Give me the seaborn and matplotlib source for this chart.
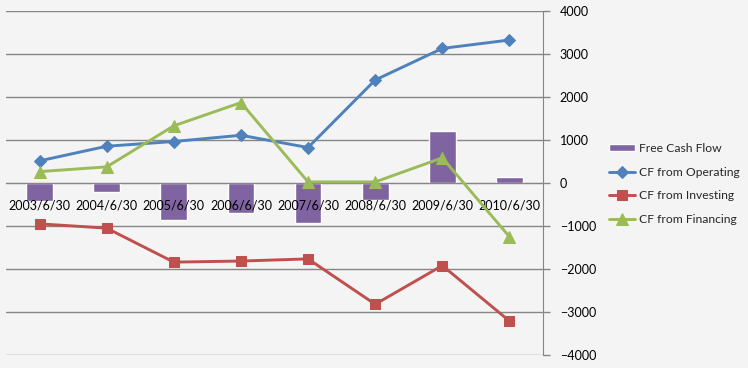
import numpy as np
import pandas as pd
import seaborn as sns
import matplotlib.pyplot as plt

# data
dates = ["2003/6/30", "2004/6/30", "2005/6/30", "2006/6/30",
         "2007/6/30", "2008/6/30", "2009/6/30", "2010/6/30"]
free_cf = [-420, -200, -855, -690, -925, -400, 1210, 140]
cf_operating = [515, 855, 965, 1110, 825, 2395, 3130, 3325]
cf_investing = [-950, -1050, -1840, -1815, -1765, -2820, -1920, -3210]
cf_financing = [265, 375, 1330, 1870, 25, 25, 585, -1250]

bg = "#F4F4F4"
grid_col = "#868686"

sns.set_style("white")
plt.rcParams["font.family"] = ["Lato", "DejaVu Sans"]

fig = plt.figure(figsize=(7.48, 3.68), dpi=100, facecolor=bg)
ax = fig.add_axes([6 / 748, 13 / 368, 537 / 748, 344 / 368])
ax.set_facecolor(bg)
ax.set_axisbelow(False)  # category labels go on top of the bars

# gridlines first so everything sits on top
for v in range(-4000, 4001, 1000):
    ax.axhline(v, color=grid_col, lw=1, zorder=0)

fcf = pd.DataFrame({"date": dates, "value": free_cf})
sns.barplot(data=fcf, x="date", y="value", color="#8064A2", width=0.4,
            saturation=1, ax=ax, label="Free Cash Flow", zorder=2)

pos = np.arange(len(dates))
series = [
    ("CF from Operating", cf_operating, "#4F81BD", "D", 6),
    ("CF from Investing", cf_investing, "#C0504D", "s", 7),
    ("CF from Financing", cf_financing, "#9BBB59", "^", 8),
]
for name, vals, col, mk, ms in series:
    sns.lineplot(x=pos, y=vals, color=col, lw=2.1, marker=mk, markersize=ms,
                 markeredgecolor=col, ax=ax, label=name, zorder=3)

ax.set_xlim(-0.5, len(dates) - 0.5)
ax.set_ylim(-4000, 4000)
ax.set_xlabel("")
ax.set_ylabel("")

# category axis sits on the zero line
for s in ["left", "top"]:
    ax.spines[s].set_visible(False)
ax.spines["bottom"].set_position(("data", 0))
ax.spines["bottom"].set_color(grid_col)
ax.spines["right"].set_color(grid_col)

ax.set_xticks(pos)
ax.set_xticklabels(dates)
ax.set_xticks(np.arange(-0.5, len(dates), 1), minor=True)
ax.tick_params(axis="x", which="major", length=0, pad=12, labelsize=9,
               colors="black")
ax.tick_params(axis="x", which="minor", length=4, color=grid_col, width=1)

ax.yaxis.tick_right()
ax.set_yticks(range(-4000, 4001, 1000))
ax.tick_params(axis="y", length=5, color=grid_col, width=1, pad=7,
               labelsize=9, labelcolor="black")

# bars first in the legend, like the original
handles, labels = ax.get_legend_handles_labels()
order = [labels.index("Free Cash Flow")] + [i for i, l in enumerate(labels) if l != "Free Cash Flow"]
ax.legend([handles[i] for i in order], [labels[i] for i in order],
          loc="center left", bbox_to_anchor=(598 / 748, 184 / 368),
          bbox_transform=fig.transFigure, frameon=False, fontsize=8.7,
          handlelength=2.2, handleheight=0.5, handletextpad=0.3, labelspacing=1.05)

fig.savefig("out.png", dpi=100, facecolor=bg)
